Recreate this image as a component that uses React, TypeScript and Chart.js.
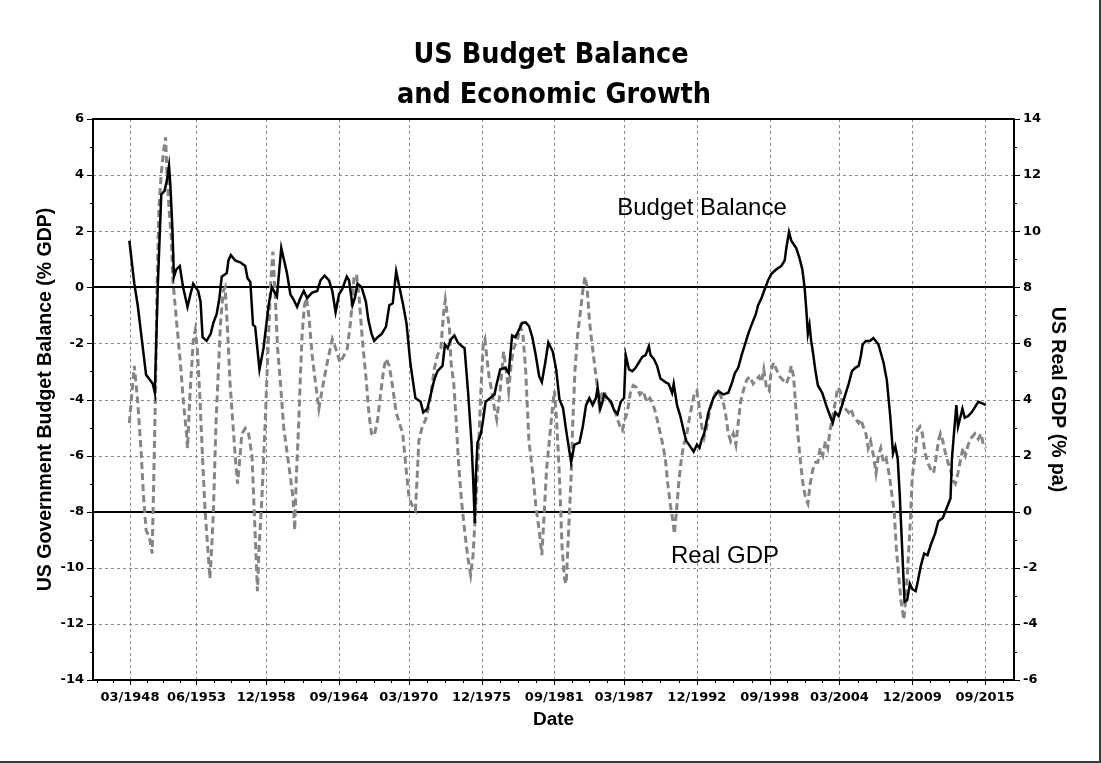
import React, { useEffect, useRef } from "react";
import { Chart, registerables } from "chart.js";

Chart.register(...registerables);

// ---- Data (decimal years) ----
const budgetDates = [
  1948.12, 1948.51, 1948.78, 1949.05, 1949.44, 1949.97, 1950.13, 1950.37, 1950.64, 1950.9,
  1951.09, 1951.25, 1951.35, 1951.51, 1951.64, 1951.83, 1952.1, 1952.36, 1952.71, 1952.94,
  1953.16, 1953.55, 1953.74, 1953.9, 1954.22, 1954.54, 1954.75, 1955.01, 1955.23, 1955.41,
  1955.81, 1955.94, 1956.13, 1956.47, 1956.87, 1957.27, 1957.45, 1957.67, 1957.88, 1958.05,
  1958.39, 1958.71, 1959.11, 1959.37, 1959.77, 1960.11, 1960.56, 1960.83, 1961.09, 1961.36,
  1961.62, 1961.89, 1962.15, 1962.55, 1962.95, 1963.21, 1963.53, 1963.88, 1964.14, 1964.4,
  1964.67, 1964.93, 1965.28, 1965.46, 1965.73, 1965.92, 1966.13, 1966.45, 1966.79, 1966.98,
  1967.24, 1967.45, 1967.72, 1968.04, 1968.38, 1968.64, 1968.91, 1969.18, 1969.44, 1969.72,
  1970.0, 1970.3, 1970.7, 1971.11, 1971.32, 1971.64, 1971.91, 1972.18, 1972.44, 1972.84,
  1973.03, 1973.25, 1973.51, 1973.78, 1974.05, 1974.37, 1974.58, 1974.85, 1975.12, 1975.25,
  1975.39, 1975.47, 1975.6, 1975.87, 1976.05, 1976.24, 1976.59, 1976.94, 1977.12, 1977.39,
  1977.79, 1978.06, 1978.33, 1978.59, 1978.86, 1979.13, 1979.4, 1979.66, 1979.93, 1980.2,
  1980.47, 1980.68, 1980.95, 1981.19, 1981.54, 1981.81, 1982.07, 1982.35, 1982.6, 1982.99,
  1983.25, 1983.65, 1983.91, 1984.17, 1984.43, 1984.69, 1984.95, 1985.08, 1985.29, 1985.47,
  1985.6, 1985.86, 1986.13, 1986.39, 1986.65, 1986.91, 1987.17, 1987.3, 1987.56, 1987.82,
  1988.08, 1988.34, 1988.61, 1988.87, 1989.13, 1989.26, 1989.52, 1989.78, 1990.04, 1990.43,
  1990.69, 1990.96, 1991.09, 1991.35, 1991.61, 1991.87, 1992.08, 1992.39, 1992.66, 1992.92,
  1993.12, 1993.31, 1993.49, 1993.83, 1994.22, 1994.61, 1995.0, 1995.4, 1995.66, 1995.92,
  1996.18, 1996.45, 1996.71, 1996.97, 1997.23, 1997.57, 1997.75, 1998.02, 1998.28, 1998.54,
  1998.8, 1999.19, 1999.59, 1999.85, 1999.98, 2000.19, 2000.37, 2000.76, 2001.03, 2001.24,
  2001.42, 2001.55, 2001.68, 2001.81, 2001.94, 2002.07, 2002.26, 2002.47, 2002.81, 2003.12,
  2003.38, 2003.64, 2003.85, 2004.11, 2004.38, 2004.64, 2004.9, 2005.16, 2005.42, 2005.69,
  2005.87, 2006.0, 2006.26, 2006.58, 2006.85, 2007.25, 2007.65, 2007.91, 2008.18, 2008.4,
  2008.58, 2008.77, 2008.93, 2009.12, 2009.31, 2009.52, 2009.73, 2009.92, 2010.19, 2010.37,
  2010.59, 2010.86, 2011.12, 2011.39, 2011.71, 2011.98, 2012.33, 2012.67, 2012.94, 2013.05,
  2013.21, 2013.4, 2013.53, 2013.74, 2013.88, 2014.06, 2014.33, 2014.6, 2014.87, 2015.13,
  2015.45, 2015.72,
];
const budgetValues = [
  1.66, 0.13, -0.64, -1.66, -3.12, -3.44, -3.76, 0.13, 3.31, 3.44,
  3.82, 4.33, 3.69, 2.17, 0.38, 0.64, 0.76, 0.0, -0.7, -0.25,
  0.13, -0.13, -0.51, -1.78, -1.91, -1.66, -1.27, -0.96, -0.38, 0.38,
  0.51, 0.96, 1.15, 0.96, 0.89, 0.76, 0.32, 0.19, -1.34, -1.4,
  -2.93, -2.17, -0.64, 0.0, -0.32, 1.4, 0.51, -0.25, -0.45, -0.7,
  -0.38, -0.13, -0.38, -0.19, -0.13, 0.25, 0.42, 0.25, -0.13, -0.89,
  -0.25, -0.06, 0.38, 0.25, -0.64, -0.38, 0.13, 0.0, -0.51, -1.15,
  -1.66, -1.91, -1.78, -1.66, -1.4, -0.64, -0.57, 0.57, 0.0, -0.6,
  -1.3, -2.7, -3.95, -4.08, -4.46, -4.33, -3.82, -3.31, -2.99, -2.8,
  -2.04, -2.17, -1.85, -1.72, -1.97, -2.1, -2.17, -3.69, -5.48, -6.75,
  -8.41, -6.75, -5.54, -5.22, -4.71, -4.08, -3.95, -3.82, -3.44, -2.93,
  -2.87, -3.06, -1.72, -1.78, -1.53, -1.27, -1.25, -1.38, -1.78, -2.42,
  -3.18, -3.38, -2.68, -1.97, -2.29, -2.93, -4.0, -4.3, -5.1, -6.24,
  -5.61, -5.54, -4.97, -4.2, -3.95, -4.2, -3.95, -3.57, -4.33, -4.08,
  -3.82, -3.95, -4.08, -4.39, -4.52, -4.08, -3.95, -2.42, -2.93, -2.99,
  -2.87, -2.68, -2.48, -2.42, -2.1, -2.42, -2.55, -2.8, -3.25, -3.38,
  -3.44, -3.76, -3.44, -4.2, -4.59, -5.1, -5.48, -5.67, -5.86, -5.61,
  -5.73, -5.41, -5.22, -4.46, -3.95, -3.7, -3.82, -3.76, -3.44, -3.06,
  -2.87, -2.42, -2.04, -1.66, -1.34, -0.96, -0.64, -0.38, -0.06, 0.25,
  0.48, 0.64, 0.76, 0.96, 1.4, 1.97, 1.66, 1.4, 1.02, 0.64,
  0.0, -0.76, -1.66, -1.34, -1.91, -2.29, -2.93, -3.5, -3.76, -4.2,
  -4.52, -4.84, -4.46, -4.59, -4.2, -3.82, -3.44, -2.99, -2.87, -2.8,
  -2.42, -2.04, -1.91, -1.91, -1.81, -2.04, -2.68, -3.31, -4.59, -5.92,
  -5.67, -6.11, -7.39, -9.3, -11.21, -11.15, -10.57, -10.76, -10.83, -10.45,
  -9.94, -9.49, -9.55, -9.17, -8.79, -8.34, -8.22, -7.83, -7.52, -6.11,
  -5.22, -4.2, -4.97, -4.59, -4.33, -4.65, -4.59, -4.46, -4.27, -4.08,
  -4.14, -4.2,
];

const gdpDates = [
  1948.12, 1948.51, 1948.78, 1949.05, 1949.23, 1949.44, 1949.71, 1949.92, 1950.05, 1950.19,
  1950.29, 1950.45, 1950.64, 1950.82, 1950.98, 1951.09, 1951.25, 1951.43, 1951.56, 1951.83,
  1952.15, 1952.36, 1952.63, 1952.71, 1952.89, 1953.16, 1953.32, 1953.48, 1953.69, 1953.9,
  1954.09, 1954.27, 1954.48, 1954.62, 1954.75, 1954.96, 1955.15, 1955.33, 1955.54, 1955.68,
  1955.81, 1955.94, 1956.07, 1956.29, 1956.47, 1956.66, 1956.82, 1957.0, 1957.27, 1957.53,
  1957.8, 1957.97, 1958.13, 1958.23, 1958.36, 1958.58, 1958.84, 1959.11, 1959.29, 1959.45,
  1959.64, 1959.82, 1960.03, 1960.3, 1960.56, 1960.83, 1961.04, 1961.17, 1961.3, 1961.49,
  1961.62, 1961.76, 1961.94, 1962.1, 1962.29, 1962.55, 1962.82, 1963.08, 1963.27, 1963.53,
  1963.8, 1964.14, 1964.4, 1964.75, 1965.07, 1965.33, 1965.6, 1965.86, 1966.05, 1966.26,
  1966.52, 1966.79, 1967.05, 1967.24, 1967.45, 1967.72, 1967.98, 1968.19, 1968.38, 1968.64,
  1968.91, 1969.18, 1969.44, 1969.7, 1969.97, 1970.2, 1970.44, 1970.7, 1970.84, 1970.97,
  1971.24, 1971.51, 1971.78, 1971.96, 1972.18, 1972.44, 1972.71, 1972.93, 1973.06, 1973.19,
  1973.38, 1973.51, 1973.73, 1973.91, 1974.1, 1974.32, 1974.58, 1974.85, 1975.06, 1975.25,
  1975.44, 1975.65, 1975.87, 1976.05, 1976.19, 1976.32, 1976.51, 1976.72, 1976.94, 1977.12,
  1977.39, 1977.66, 1977.85, 1978.06, 1978.27, 1978.46, 1978.73, 1978.99, 1979.18, 1979.4,
  1979.66, 1979.93, 1980.2, 1980.47, 1980.68, 1980.87, 1981.05, 1981.27, 1981.54, 1981.67,
  1981.86, 1982.07, 1982.28, 1982.47, 1982.6, 1982.73, 1982.86, 1982.99, 1983.12, 1983.3,
  1983.51, 1983.72, 1983.91, 1984.09, 1984.25, 1984.43, 1984.61, 1984.82, 1985.03, 1985.21,
  1985.39, 1985.6, 1985.86, 1986.13, 1986.39, 1986.65, 1986.86, 1987.04, 1987.22, 1987.43,
  1987.69, 1987.9, 1988.16, 1988.42, 1988.68, 1988.95, 1989.21, 1989.47, 1989.65, 1989.91,
  1990.17, 1990.43, 1990.62, 1990.83, 1991.01, 1991.14, 1991.3, 1991.48, 1991.66, 1991.87,
  1992.08, 1992.26, 1992.53, 1992.71, 1992.92, 1993.12, 1993.31, 1993.49, 1993.7, 1993.96,
  1994.22, 1994.48, 1994.74, 1995.0, 1995.21, 1995.4, 1995.58, 1995.79, 1996.0, 1996.18,
  1996.37, 1996.58, 1996.84, 1997.1, 1997.36, 1997.57, 1997.83, 1998.02, 1998.2, 1998.41,
  1998.62, 1998.8, 1998.98, 1999.19, 1999.46, 1999.72, 1999.98, 2000.19, 2000.37, 2000.55,
  2000.71, 2000.89, 2001.07, 2001.29, 2001.5, 2001.68, 2001.86, 2002.07, 2002.28, 2002.47,
  2002.65, 2002.86, 2003.07, 2003.25, 2003.43, 2003.64, 2003.85, 2004.04, 2004.22, 2004.43,
  2004.64, 2004.9, 2005.08, 2005.27, 2005.48, 2005.69, 2005.87, 2006.05, 2006.26, 2006.44,
  2006.63, 2006.85, 2007.06, 2007.25, 2007.43, 2007.65, 2007.86, 2008.13, 2008.31, 2008.5,
  2008.66, 2008.85, 2009.04, 2009.25, 2009.39, 2009.57, 2009.73, 2009.92, 2010.11, 2010.32,
  2010.53, 2010.72, 2010.91, 2011.12, 2011.39, 2011.6, 2011.79, 2011.98, 2012.14, 2012.33,
  2012.51, 2012.73, 2012.94, 2013.13, 2013.32, 2013.53, 2013.74, 2013.93, 2014.12, 2014.33,
  2014.6, 2014.87, 2015.13, 2015.35, 2015.53, 2015.72,
];
const gdpValues = [
  3.16, 5.2, 3.92, 2.14, 0.61, -0.66, -0.92, -1.49, 1.25, 4.43,
  7.62, 10.8, 12.08, 12.84, 13.35, 12.08, 10.8, 9.78, 8.25, 6.85,
  5.32, 4.05, 2.78, 2.27, 4.05, 6.09, 6.47, 5.83, 4.05, 1.89,
  0.1, -1.04, -2.38, -1.3, -0.03, 3.16, 5.07, 6.85, 7.87, 8.0,
  6.98, 5.83, 4.56, 3.16, 2.01, 1.0, 1.76, 2.78, 2.97, 2.78,
  2.0, 0.1, -1.68, -2.83, -1.3, 0.48, 3.16, 6.34, 8.25, 9.27,
  7.62, 5.83, 4.69, 3.03, 2.14, 1.25, 0.48, -0.66, 1.25, 3.16,
  4.82, 6.34, 7.36, 7.62, 6.98, 5.58, 4.56, 3.67, 4.18, 4.82,
  5.45, 6.15, 5.83, 5.32, 5.58, 5.83, 6.85, 8.38, 8.45, 7.62,
  6.09, 4.82, 3.41, 2.78, 2.71, 3.29, 4.31, 5.07, 5.45, 5.2,
  4.43, 3.54, 3.16, 2.78, 1.5, 0.5, 0.23, 0.05, 1.25, 2.52,
  3.03, 3.29, 3.8, 4.31, 5.07, 5.58, 5.83, 7.11, 7.55, 7.11,
  6.6, 5.32, 4.56, 3.29, 1.76, 0.48, -0.66, -1.68, -2.25, -1.55,
  -0.03, 1.89, 4.31, 5.96, 6.15, 5.58, 4.82, 4.31, 3.67, 3.29,
  4.31, 5.71, 5.07, 4.31, 5.32, 5.83, 6.09, 6.6, 6.34, 5.07,
  2.52, 1.5, 0.23, -0.66, -1.55, -0.03, 1.5, 2.52, 3.8, 4.31,
  3.16, 1.25, -1.3, -2.4, -2.57, -1.3, -0.03, 1.25, 3.16, 5.07,
  6.34, 7.11, 7.87, 8.38, 8.0, 6.85, 6.09, 5.32, 4.56, 3.8,
  4.18, 4.31, 3.92, 3.92, 3.67, 3.29, 3.03, 2.9, 3.29, 3.54,
  4.31, 4.5, 4.43, 4.18, 4.31, 3.92, 4.05, 3.8, 3.54, 3.03,
  2.52, 1.89, 1.0, 0.23, -0.28, -0.79, -0.03, 1.0, 1.76, 2.39,
  2.65, 3.16, 3.8, 4.18, 4.31, 3.67, 3.03, 2.65, 3.03, 3.67,
  4.05, 4.31, 4.18, 3.92, 3.41, 2.78, 2.52, 2.78, 2.39, 3.16,
  3.92, 4.31, 4.69, 4.82, 4.56, 4.69, 4.82, 4.62, 5.07, 4.43,
  4.31, 5.07, 5.32, 5.07, 4.82, 4.69, 4.56, 4.82, 5.2, 4.82,
  3.8, 2.78, 1.89, 1.0, 0.48, 0.29, 1.0, 1.5, 1.76, 1.76,
  2.27, 2.01, 2.52, 2.27, 2.9, 3.41, 3.92, 4.43, 4.31, 3.8,
  3.67, 3.54, 3.67, 3.41, 3.29, 3.16, 3.29, 3.03, 2.78, 2.27,
  2.52, 2.01, 1.38, 2.01, 2.27, 1.76, 1.89, 1.25, 0.61, -0.03,
  -1.3, -2.32, -3.21, -3.85, -3.21, -1.94, -0.66, 1.25, 1.89, 2.9,
  3.03, 2.78, 2.14, 1.76, 1.5, 1.38, 1.89, 2.52, 2.78, 2.52,
  2.14, 1.76, 1.5, 1.12, 1.0, 1.38, 1.89, 2.27, 2.01, 2.39,
  2.65, 2.78, 2.59, 2.78, 2.39, 2.27,
];

const xTickValues = [
  1948.167, 1953.417, 1958.917, 1964.667, 1970.167, 1975.917, 1981.667,
  1987.167, 1992.917, 1998.667, 2004.167, 2009.917, 2015.667,
];
const xTickLabels = [
  "03/1948", "06/1953", "12/1958", "09/1964", "03/1970", "12/1975", "09/1981",
  "03/1987", "12/1992", "09/1998", "03/2004", "12/2009", "09/2015",
];
const leftTicks = [-14, -12, -10, -8, -6, -4, -2, 0, 2, 4, 6];

const titleLines = ["US Budget Balance", "and Economic Growth"];
const leftAxisTitle = "US Government Budget Balance (% GDP)";
const rightAxisTitle = "US Real GDP (% pa)";
const xAxisTitle = "Date";
const budgetLabel = "Budget Balance";
const gdpLabel = "Real GDP";

const TICK_FONT = { family: "'DejaVu Sans', Verdana, sans-serif", size: 13, weight: "bold" as const };

const decorPlugin = {
  id: "decor",
  beforeDatasetsDraw(chart: any) {
    const { ctx, chartArea: a, scales } = chart;
    const xs = scales.x;
    const ys = scales.y;
    ctx.save();
    ctx.strokeStyle = "#8a8a8a";
    ctx.lineWidth = 1;
    ctx.setLineDash([3, 3]);
    xTickValues.forEach((v) => {
      const px = Math.round(xs.getPixelForValue(v)) + 0.5;
      ctx.beginPath();
      ctx.moveTo(px, a.top);
      ctx.lineTo(px, a.bottom);
      ctx.stroke();
    });
    leftTicks.forEach((v) => {
      if (v === 0 || v === -8 || v === 6 || v === -14) return;
      const py = Math.round(ys.getPixelForValue(v)) + 0.5;
      ctx.beginPath();
      ctx.moveTo(a.left, py);
      ctx.lineTo(a.right, py);
      ctx.stroke();
    });
    ctx.setLineDash([]);
    ctx.strokeStyle = "#000";
    ctx.lineWidth = 2;
    [0, -8].forEach((v) => {
      const py = Math.round(ys.getPixelForValue(v));
      ctx.beginPath();
      ctx.moveTo(a.left, py);
      ctx.lineTo(a.right, py);
      ctx.stroke();
    });
    ctx.restore();
  },
  afterDatasetsDraw(chart: any) {
    const { ctx, chartArea: a, scales } = chart;
    const xs = scales.x;
    const ys = scales.y;
    ctx.save();
    ctx.strokeStyle = "#000";
    ctx.lineWidth = 2;
    ctx.strokeRect(a.left, a.top, a.right - a.left, a.bottom - a.top);
    ctx.lineWidth = 1;
    // y ticks (left and right), major + minor
    for (let v = -14; v <= 6; v += 1) {
      const py = Math.round(ys.getPixelForValue(v)) + 0.5;
      const len = v % 2 === 0 ? 6 : 3;
      ctx.beginPath();
      ctx.moveTo(a.left - len, py);
      ctx.lineTo(a.left, py);
      ctx.moveTo(a.right, py);
      ctx.lineTo(a.right + len, py);
      ctx.stroke();
    }
    // x ticks: majors and three minors between
    const sub = 4;
    const minors: number[] = [];
    for (let i = 0; i < xTickValues.length - 1; i++) {
      const step = (xTickValues[i + 1] - xTickValues[i]) / sub;
      for (let k = 1; k < sub; k++) minors.push(xTickValues[i] + k * step);
    }
    const s0 = (xTickValues[1] - xTickValues[0]) / sub;
    for (let v = xTickValues[0] - s0; v > xs.min; v -= s0) minors.push(v);
    const n = xTickValues.length;
    const s1 = (xTickValues[n - 1] - xTickValues[n - 2]) / sub;
    for (let v = xTickValues[n - 1] + s1; v < xs.max; v += s1) minors.push(v);
    xTickValues.forEach((v) => {
      const px = Math.round(xs.getPixelForValue(v)) + 0.5;
      ctx.beginPath();
      ctx.moveTo(px, a.bottom);
      ctx.lineTo(px, a.bottom + 5);
      ctx.stroke();
    });
    minors.forEach((v) => {
      const px = Math.round(xs.getPixelForValue(v)) + 0.5;
      ctx.beginPath();
      ctx.moveTo(px, a.bottom);
      ctx.lineTo(px, a.bottom + 3);
      ctx.stroke();
    });
    ctx.restore();
  },
  afterDraw(chart: any) {
    const { ctx, chartArea: a, width, height } = chart;
    ctx.save();
    ctx.fillStyle = "#000";
    ctx.textAlign = "center";
    ctx.textBaseline = "alphabetic";
    ctx.font = "bold 28.5px 'DejaVu Sans Condensed', 'DejaVu Sans', sans-serif";
    ctx.fillText(titleLines[0], 551, 63);
    ctx.fillText(titleLines[1], 554, 103);

    ctx.textBaseline = "middle";
    ctx.font = "bold 19.5px 'Liberation Sans', Arial, sans-serif";
    const cy = (a.top + a.bottom) / 2;
    ctx.save();
    ctx.translate(46, cy);
    ctx.rotate(-Math.PI / 2);
    ctx.fillText(leftAxisTitle, 0, 0);
    ctx.restore();
    ctx.save();
    ctx.translate(1057, cy);
    ctx.rotate(Math.PI / 2);
    ctx.fillText(rightAxisTitle, 0, 0);
    ctx.restore();
    ctx.font = "bold 19px 'Liberation Sans', Arial, sans-serif";
    ctx.fillText(xAxisTitle, (a.left + a.right) / 2, 720);

    ctx.font = "24px 'Liberation Sans', Arial, sans-serif";
    ctx.fillText(budgetLabel, 702, 208);
    ctx.fillText(gdpLabel, 725, 556);

    // outer frame (right and bottom edges)
    ctx.strokeStyle = "#3a3a3a";
    ctx.lineWidth = 2;
    ctx.beginPath();
    ctx.moveTo(width - 1, 0);
    ctx.lineTo(width - 1, height - 1);
    ctx.lineTo(0, height - 1);
    ctx.stroke();
    ctx.restore();
  },
};

export default function App() {
  const canvasRef = useRef<HTMLCanvasElement | null>(null);

  useEffect(() => {
    document.body.style.margin = "0";
    const canvas = canvasRef.current;
    if (!canvas) return;
    const chart = new Chart(canvas, {
      type: "line",
      data: {
        datasets: [
          {
            label: "Budget Balance",
            data: budgetDates.map((d, i) => ({ x: d, y: budgetValues[i] })),
            yAxisID: "y",
            borderColor: "#000",
            borderWidth: 2.5,
            pointRadius: 0,
            tension: 0,
            fill: false,
            order: 0,
          },
          {
            label: "Real GDP",
            data: gdpDates.map((d, i) => ({ x: d, y: gdpValues[i] })),
            yAxisID: "y1",
            borderColor: "#858585",
            borderWidth: 3,
            borderDash: [7, 4],
            pointRadius: 0,
            tension: 0,
            fill: false,
            order: 1,
          },
        ],
      },
      options: {
        responsive: false,
        animation: false,
        devicePixelRatio: 1,
        layout: { padding: { top: 119, left: 0, right: 0, bottom: 0 } },
        plugins: {
          legend: { display: false },
          tooltip: { enabled: false },
          title: { display: false },
        },
        scales: {
          x: {
            type: "linear",
            min: 1945.25,
            max: 2017.95,
            afterBuildTicks: (s: any) => {
              s.ticks = xTickValues.map((v) => ({ value: v }));
            },
            afterFit: (s: any) => {
              s.height = 83;
            },
            grid: { display: false, drawTicks: false },
            border: { display: false },
            ticks: {
              autoSkip: false,
              maxRotation: 0,
              minRotation: 0,
              padding: 10,
              color: "#000",
              font: TICK_FONT,
              callback: (_v: any, i: number) => xTickLabels[i],
            },
          },
          y: {
            position: "left",
            min: -14,
            max: 6,
            afterBuildTicks: (s: any) => {
              s.ticks = leftTicks.map((v) => ({ value: v }));
            },
            afterFit: (s: any) => {
              s.width = 93;
            },
            grid: { display: false, drawTicks: false },
            border: { display: false },
            ticks: { padding: 9, color: "#000", font: TICK_FONT },
          },
          y1: {
            position: "right",
            min: -6,
            max: 14,
            afterBuildTicks: (s: any) => {
              s.ticks = leftTicks.map((v) => ({ value: v + 8 }));
            },
            afterFit: (s: any) => {
              s.width = 87;
            },
            grid: { display: false, drawTicks: false },
            border: { display: false },
            ticks: { padding: 9, color: "#000", font: TICK_FONT },
          },
        },
      },
      plugins: [decorPlugin],
    });
    return () => chart.destroy();
  }, []);

  return (
    <div style={{ position: "absolute", left: 0, top: 0, width: 1101, height: 763, background: "#fff" }}>
      <canvas ref={canvasRef} width={1101} height={763} style={{ display: "block", width: 1101, height: 763 }} />
    </div>
  );
}
